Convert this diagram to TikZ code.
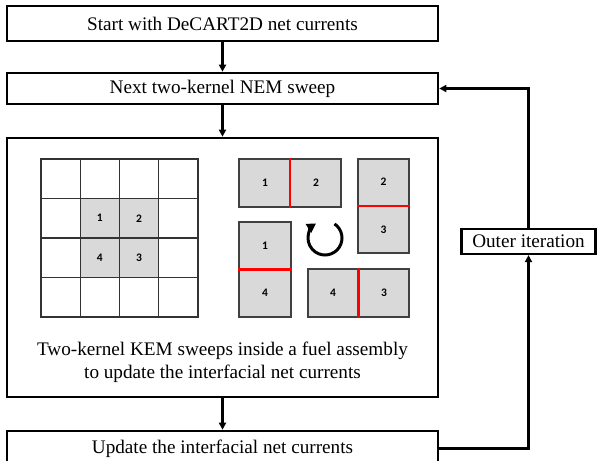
\documentclass[tikz,border=0pt]{standalone}
\usepackage{fontspec}
\setmainfont{Liberation Serif}
\newfontfamily\cellfont{Carlito}
\usetikzlibrary{arrows.meta}

\begin{document}
\begin{tikzpicture}[x=1bp,y=-1bp,
    font=\fontsize{19.2bp}{23bp}\selectfont,
    box/.style={rectangle,draw,line width=2.6bp,minimum width=431bp,inner sep=0pt},
    flow/.style={draw,line width=2.2bp,-{Triangle[length=7bp,width=7bp]}},
    piece/.style={rectangle,draw=black!75,line width=1.3bp,fill=black!15,inner sep=0pt},
    cut/.style={draw=red,line width=2.8bp},
    num/.style={font=\cellfont\bfseries\fontsize{11.5bp}{13bp}\selectfont}
]
    \useasboundingbox (0,0) rectangle (597,461);

    \node[box,minimum height=35bp] (start) at (222.5,23.5) {Start with DeCART2D net currents};
    \node[box,minimum height=31bp] (nem) at (222.5,88.5) {Next two-kernel NEM sweep};
    \node[box,minimum height=259bp] (kem) at (222.5,267.5) {};
    \node[box,minimum height=35bp] (update) at (222.5,448.5) {Update the interfacial net currents};
    \node[rectangle,draw,line width=2.2bp,minimum width=134bp,minimum height=25bp,inner sep=0pt]
        (outer) at (528.5,241.5) {Outer iteration};
    \node[align=center] (caption) at (222.5,362) {Two-kernel KEM sweeps inside a fuel assembly\\to update the interfacial net currents};

    \draw[flow] (start) -- (nem);
    \draw[flow] (nem) -- (kem);
    \draw[flow] (kem) -- (update);
    \draw[flow] (update.east) -| (outer);
    \draw[flow] (outer) |- (nem);

    \fill[black!15] (80.25,198.5) rectangle (159,277.5);
    \draw[black!80,line width=1.3bp] (41,159) rectangle (198,317)
        (80.25,159) -- (80.25,317) (119.5,159) -- (119.5,317) (158.75,159) -- (158.75,317)
        (41,198.5) -- (198,198.5) (41,238) -- (198,238) (41,277.5) -- (198,277.5);
    \node[num] (g1) at (99.9,218.25) {1};
    \node[num] (g2) at (139.1,218.25) {2};
    \node[num] (g3) at (139.1,257.75) {3};
    \node[num] (g4) at (99.9,257.75) {4};

    \node[piece,minimum width=102bp,minimum height=48bp] (p12) at (290,183) {};
    \draw[cut] (p12.north) -- (p12.south);
    \node[num] (p12a) at (265,183) {1};
    \node[num] (p12b) at (316,183) {2};

    \node[piece,minimum width=51bp,minimum height=94bp] (p23) at (383.5,206) {};
    \draw[cut] (p23.west) -- (p23.east);
    \node[num] (p23a) at (383.5,182) {2};
    \node[num] (p23b) at (383.5,230) {3};

    \node[piece,minimum width=52bp,minimum height=95bp] (p14) at (265,269.5) {};
    \draw[cut] (p14.west) -- (p14.east);
    \node[num] (p14a) at (265,245.5) {1};
    \node[num] (p14b) at (265,293) {4};

    \node[piece,minimum width=101bp,minimum height=48bp] (p43) at (358.5,293) {};
    \draw[cut] (p43.north) -- (p43.south);
    \node[num] (p43a) at (333,293) {4};
    \node[num] (p43b) at (384,293) {3};

    \coordinate (turn) at (325,238);
    \draw[line width=3bp,-{Triangle[length=9bp,width=10bp]}] (turn) ++(-56:17) arc[start angle=-56,end angle=238,radius=17];

\end{tikzpicture}
\end{document}
